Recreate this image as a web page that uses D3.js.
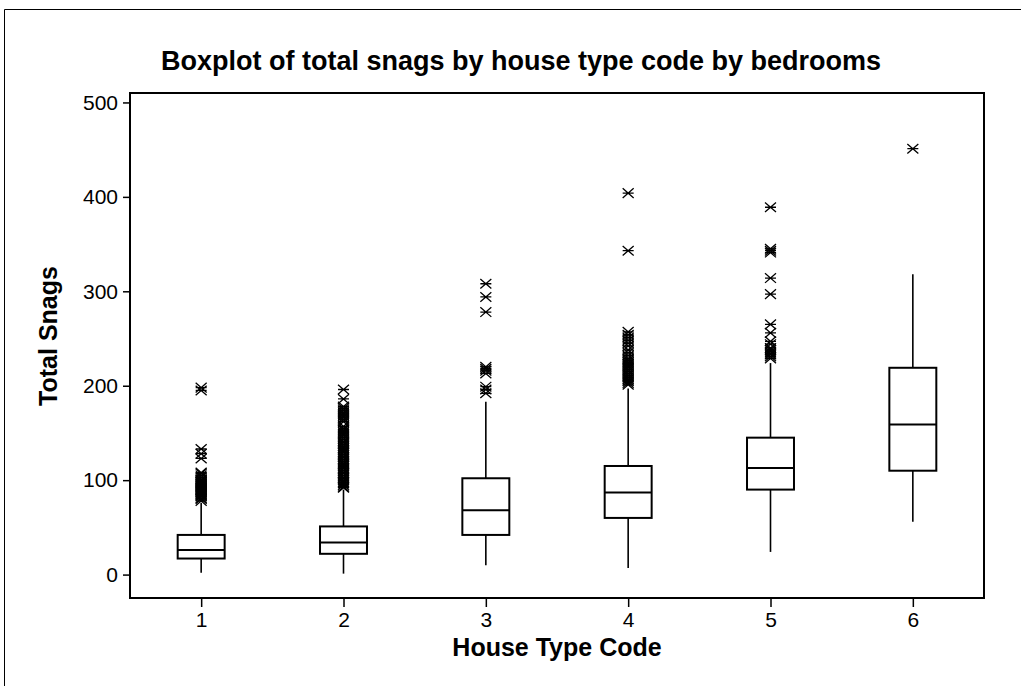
<!DOCTYPE html>
<html><head><meta charset="utf-8">
<script src="https://cdn.jsdelivr.net/npm/d3@7"></script>
<style>body{margin:0;background:#fff}svg{display:block}</style>
</head><body>
<svg id="c" width="1021" height="686"></svg>
<script>
const categories = [1, 2, 3, 4, 5, 6];
const whiskerLow = [2, 1, 10, 7, 24, 56];
const q1 = [17, 22, 42, 60, 90, 110];
const median = [26, 34, 68, 87, 113, 159];
const q3 = [42, 51, 102, 115, 145, 219];
const whiskerHigh = [76, 90, 183, 197, 224, 318];
const outliers = [
  [78,80,81,83,84,85,86,87,88,89,90,91,92,93,94,95,96,97,98,99,100,101,103,105,107,108,123,128,133,195,198],
  [92,93,95,97,98,100,102,103,105,107,108,110,112,113,115,117,118,120,122,124,125,127,129,130,132,134,136,138,140,141,143,145,147,149,151,153,155,157,162,164,166,168,170,172,174,176,178,186,196],
  [192,196,199,213,216,218,220,278,294,308],
  [201,203,205,207,209,211,213,215,217,219,221,223,225,227,229,232,235,238,242,245,248,251,254,257,343,404],
  [229,231,233,234,236,238,240,244,247,256,265,297,314,341,343,345,389],
  [451]
];
const yTicks = [0, 100, 200, 300, 400, 500];
const title = "Boxplot of total snags by house type code by bedrooms";
const xTitle = "House Type Code";
const yTitle = "Total Snags";

const svg = d3.select("#c");
const L = 130, R = 984, T = 93, B = 598;
const x = d3.scaleLinear().domain([0.5, 6.5]).range([L, R]);
const y = d3.scaleLinear().domain([-24.8, 510]).range([B, T]);
const font = "Arial, 'Liberation Sans', sans-serif";

// outer frame
svg.append("path").attr("d", "M4.5,686 V9.5 H1021").attr("fill","none").attr("stroke","#000").attr("stroke-width",1);

svg.append("text").attr("x", 521).attr("y", 70).attr("text-anchor","middle")
  .attr("font-family", font).attr("font-weight","bold").attr("font-size", 27).text(title);

// axes
const yAxis = d3.axisLeft(y).tickValues(yTicks).tickFormat(d3.format("d")).tickSize(7).tickPadding(5).tickSizeOuter(0);
const gy = svg.append("g").attr("transform", `translate(${L},0)`).call(yAxis);
const xAxis = d3.axisBottom(x).tickValues(categories).tickFormat(d3.format("d")).tickSize(9).tickPadding(5).tickSizeOuter(0);
const gx = svg.append("g").attr("transform", `translate(0,${B})`).call(xAxis);
[gy, gx].forEach(g => {
  g.attr("font-size", null).attr("font-family", null);
  g.select(".domain").remove();
  g.selectAll("line").attr("stroke","#000").attr("stroke-width",1.5);
  g.selectAll("text").attr("font-family", font).attr("font-size", 21).attr("fill","#000");
});

svg.append("rect").attr("x", L).attr("y", T).attr("width", R-L).attr("height", B-T)
  .attr("fill","none").attr("stroke","#000").attr("stroke-width",2);

svg.append("text").attr("x", (L+R)/2).attr("y", 656).attr("text-anchor","middle")
  .attr("font-family", font).attr("font-weight","bold").attr("font-size", 25).text(xTitle);
svg.append("text").attr("transform", `translate(57,336) rotate(-90)`).attr("text-anchor","middle")
  .attr("font-family", font).attr("font-weight","bold").attr("font-size", 25).text(yTitle);

const bw = 0.33;
const boxes = categories.map((c,i)=>({c, lo:whiskerLow[i], q1:q1[i], med:median[i], q3:q3[i], hi:whiskerHigh[i], out:outliers[i]}));
const g = svg.append("g").attr("stroke","#000").attr("fill","none");
boxes.forEach(d => {
  const cx = x(d.c), x0 = x(d.c - bw/2), x1 = x(d.c + bw/2);
  g.append("line").attr("x1",cx).attr("x2",cx).attr("y1",y(d.lo)).attr("y2",y(d.q1)).attr("stroke-width",1.6);
  g.append("line").attr("x1",cx).attr("x2",cx).attr("y1",y(d.q3)).attr("y2",y(d.hi)).attr("stroke-width",1.6);
  g.append("rect").attr("x",x0).attr("y",y(d.q3)).attr("width",x1-x0).attr("height",y(d.q1)-y(d.q3)).attr("stroke-width",2);
  g.append("line").attr("x1",x0).attr("x2",x1).attr("y1",y(d.med)).attr("y2",y(d.med)).attr("stroke-width",2);
  d.out.forEach(v => {
    const py = y(v), s = 5.5, h = 4.8;
    g.append("path").attr("d", `M${cx-s},${py-h}L${cx+s},${py+h}M${cx-s},${py+h}L${cx+s},${py-h}M${cx-s},${py}H${cx+s}`)
      .attr("stroke-width",1.3);
  });
});
</script>
</body></html>
